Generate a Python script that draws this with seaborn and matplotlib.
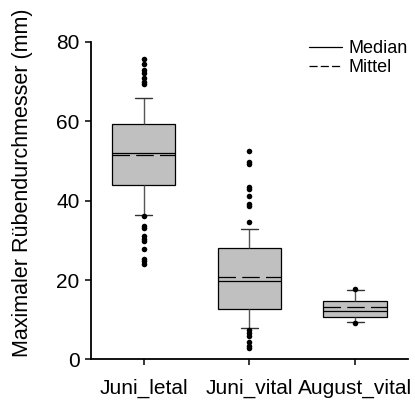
import numpy as np
import pandas as pd
import matplotlib
matplotlib.use("Agg")
import matplotlib.pyplot as plt
from matplotlib.lines import Line2D
import seaborn as sns

# Groups
groups = ["Juni_letal", "Juni_vital", "August_vital"]

# Box summary per group (mm)
whisker_low = [36.5, 7.9, 9.5]
q1 = [43.9, 12.8, 10.7]
median = [52.0, 19.7, 12.2]
q3 = [59.2, 28.0, 14.8]
whisker_high = [65.9, 32.9, 17.6]
mean = [51.4, 20.8, 13.1]

# Points beyond the whiskers (mm)
outliers_letal = [75.6, 74.3, 73.0, 72.2, 70.8, 69.9, 69.3,
                  36.0, 33.5, 33.0, 31.0, 30.3, 29.8, 27.9, 25.2, 24.7, 24.0]
outliers_juni_vital = [52.5, 49.7, 49.1, 43.5, 42.9, 41.1, 39.2, 38.7, 34.7,
                       7.3, 6.6, 5.8, 4.3, 3.5, 2.8]
outliers_august_vital = [17.7, 9.3]

y_ticks = [0, 20, 40, 60, 80]
y_label = "Maximaler Rübendurchmesser (mm)"

sns.set_style("ticks")
plt.rcParams["font.family"] = ["Liberation Sans", "DejaVu Sans"]
plt.rcParams.update({
    "text.color": "black",
    "axes.labelcolor": "black",
    "xtick.color": "black",
    "ytick.color": "black",
})

# Long-form table of the five-number summaries; whis=(0, 100) puts the
# whiskers at the summary extremes and the quartiles on q1 / q3.
summary = pd.DataFrame({
    "Gruppe": np.repeat(groups, 5),
    "Wert": np.ravel(np.column_stack([whisker_low, q1, median, q3, whisker_high])),
})
points = pd.DataFrame({
    "Gruppe": (["Juni_letal"] * len(outliers_letal)
               + ["Juni_vital"] * len(outliers_juni_vital)
               + ["August_vital"] * len(outliers_august_vital)),
    "Wert": outliers_letal + outliers_juni_vital + outliers_august_vital,
})

fig = plt.figure(figsize=(4.15, 4.01), dpi=100)
ax = fig.add_axes([0.2185, 0.1035, 0.7645, 0.7925])

box_w = 0.6
sns.boxplot(
    data=summary, x="Gruppe", y="Wert", order=groups, ax=ax,
    whis=(0, 100), showfliers=False, width=box_w,
    color="#c0c0c0", saturation=1, linecolor="black", linewidth=0.9,
    capwidths=0.16,
    whiskerprops={"color": "#555555", "linewidth": 1.0},
    capprops={"color": "#333333", "linewidth": 1.0},
    medianprops={"color": "black", "linewidth": 0.9},
)

# Dashed mean line across each box
for i, m in enumerate(mean):
    ax.hlines(m, i - box_w / 2, i + box_w / 2, colors="black",
              linestyles=(0, (14, 5)), linewidth=0.9, zorder=4)

sns.stripplot(data=points, x="Gruppe", y="Wert", order=groups, ax=ax,
              jitter=False, color="black", size=4, linewidth=0, zorder=5)

ax.set_xlim(-0.5, 2.5)
ax.set_ylim(0, 80)
ax.set_yticks(y_ticks)
ax.set_xlabel("")
ax.set_ylabel(y_label, fontsize=15.5, color="black")
ax.yaxis.set_label_coords(-0.182, 0.557)

for side in ("top", "right"):
    ax.spines[side].set_visible(False)
for side in ("left", "bottom"):
    ax.spines[side].set_linewidth(1.3)
    ax.spines[side].set_color("black")
ax.tick_params(axis="both", direction="out", length=4, width=1.1,
               colors="black", labelcolor="black", labelsize=15)
ax.tick_params(axis="x", pad=10)
ax.tick_params(axis="y", pad=4)

handles = [
    Line2D([], [], color="black", linewidth=0.9),
    Line2D([], [], color="black", linewidth=0.9, linestyle=(0, (6.5, 2.5))),
]
leg = fig.legend(handles, ["Median", "Mittel"], loc="upper left",
                 bbox_to_anchor=(309 / 415, 1 - 40 / 401), frameon=False,
                 fontsize=13, handlelength=1.85, handletextpad=0.35,
                 labelspacing=0.12, borderpad=0, borderaxespad=0)
for t in leg.get_texts():
    t.set_color("black")

fig.savefig("out.png", dpi=100)
